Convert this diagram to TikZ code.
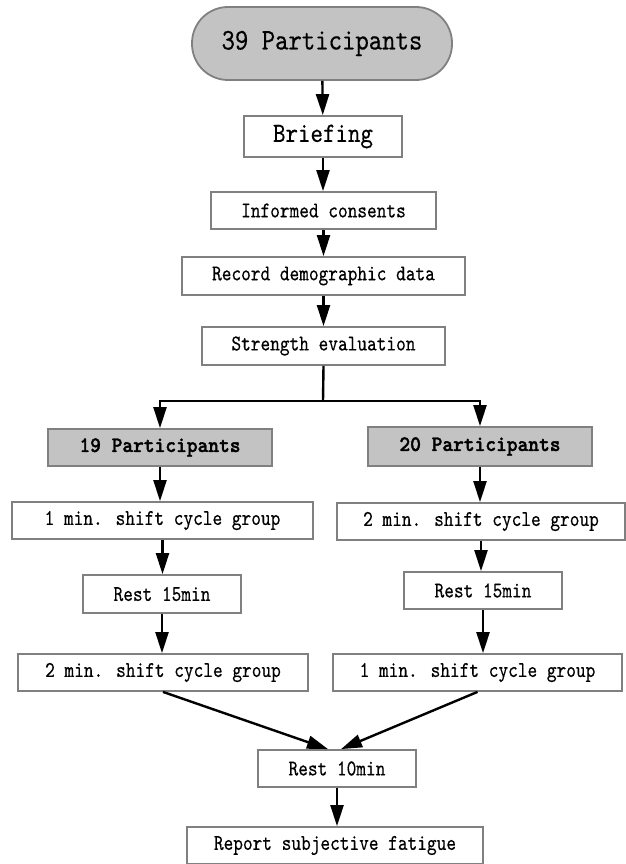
\documentclass[tikz,border=0pt]{standalone}
\usepackage{fontspec}
\usetikzlibrary{arrows.meta}
\newfontfamily\rmono{lmmono10-regular}[Extension=.otf,FakeStretch=0.82,FakeBold=0.35]
\newfontfamily\hmono{lmmono10-regular}[Extension=.otf,FakeStretch=0.85,FakeBold=0.35]
\newfontfamily\bmono{lmmonolt10-bold}[Extension=.otf,FakeStretch=0.93,FakeBold=1.6]
\definecolor{boxgray}{HTML}{C3C3C3}
\definecolor{edgegray}{HTML}{808080}
\begin{document}
\begin{tikzpicture}[x=1pt,y=-1pt,
  box/.style={draw=edgegray, line width=1.8pt, fill=white, inner sep=0pt, text=black,
              font=\rmono\fontsize{22.5}{26}\selectfont},
  gbox/.style={box, fill=boxgray, font=\bmono\fontsize{22}{26}\selectfont},
  arr/.style={line width=2.4pt, -{Triangle[length=21pt,width=13pt]}},
  ln/.style={line width=2.4pt}]
\useasboundingbox (0,0) rectangle (625,864);
% top chain
\node[gbox, rounded corners=36pt, minimum width=260pt, minimum height=73pt,
      font=\hmono\fontsize{30}{34}\selectfont] (top) at (322,43.5) {39 Participants};
\node[box, minimum width=158pt, minimum height=41pt, font=\hmono\fontsize{28}{32}\selectfont]
      (brief) at (323,136.5) {Briefing};
\node[box, minimum width=225pt, minimum height=37pt] (inf) at (323.5,210.5) {Informed consents};
\node[box, minimum width=283pt, minimum height=38pt] (rec) at (323.5,276) {Record demographic data};
\node[box, minimum width=243pt, minimum height=38pt] (str) at (323.5,346) {Strength evaluation};
% groups
\node[gbox, minimum width=224pt, minimum height=37pt] (p19) at (160,447.5) {19 Participants};
\node[gbox, minimum width=224pt, minimum height=39pt] (p20) at (480,446.5) {20 Participants};
\node[box, minimum width=301pt, minimum height=37pt] (l1) at (162.5,520.5) {1 min. shift cycle group};
\node[box, minimum width=288pt, minimum height=37pt] (r1) at (481,521.5) {2 min. shift cycle group};
\node[box, minimum width=158pt, minimum height=38pt] (l2) at (162,594) {Rest 15min};
\node[box, minimum width=158pt, minimum height=37pt] (r2) at (483,590.5) {Rest 15min};
\node[box, minimum width=290pt, minimum height=37pt] (l3) at (163,672.5) {2 min. shift cycle group};
\node[box, minimum width=289pt, minimum height=37pt] (r3) at (477.5,672.5) {1 min. shift cycle group};
\node[box, minimum width=158pt, minimum height=37pt] (rest) at (337,768.5) {Rest 10min};
\node[box, minimum width=296pt, minimum height=37pt] (rep) at (335,845.5) {Report subjective fatigue};
% connectors
\draw[arr] (top) -- (brief);
\draw[arr] (brief) -- (brief.south |- inf.north);
\draw[arr] (inf) -- (inf.south |- rec.north);
\draw[arr] (rec) -- (rec.south |- str.north);
\coordinate (split) at (323,401);
\draw[ln] (str.south) -- (split);
\draw[arr] ([xshift=1.2pt]split) -| (p19.north);
\draw[arr] ([xshift=-1.2pt]split) -| (p20.north);
\draw[arr] (p19.south) -- (p19.south |- l1.north);
\draw[arr] (p20.south) -- (p20.south |- r1.north);
\draw[arr] (l1.south) -- (l1.south |- l2.north);
\draw[arr] (r1.south) -- (r1.south |- r2.north);
\draw[arr] (l2.south) -- (l2.south |- l3.north);
\draw[arr] (r2.south) -- (r2.south |- r3.north);
\draw[arr] (l3.south) -- ([xshift=-9pt]rest.north);
\draw[arr] (r3.south) -- ([xshift=4pt]rest.north);
\draw[arr] (rest.south) -- (rest.south |- rep.north);
\end{tikzpicture}
\end{document}
